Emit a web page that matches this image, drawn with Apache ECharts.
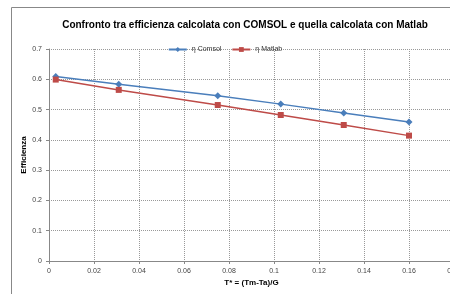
<!DOCTYPE html>
<html>
<head>
<meta charset="utf-8">
<script src="https://cdn.jsdelivr.net/npm/echarts@6/dist/echarts.min.js"></script>
<style>
  html, body { margin: 0; padding: 0; background: #fff; }
  #chart { width: 450px; height: 294px; }
</style>
</head>
<body>
<div id="chart"></div>
<script>
// dati
const tStar = [0.003, 0.031, 0.075, 0.103, 0.131, 0.160];
const etaComsol = [0.609, 0.584, 0.546, 0.518, 0.489, 0.459];
const etaMatlab = [0.599, 0.565, 0.515, 0.482, 0.449, 0.414];

const FONT = '"Liberation Sans", Arial, sans-serif';

function pairs(xs, ys) {
    return xs.map((x, i) => [x, ys[i]]);
}

const chart = echarts.init(document.getElementById('chart'));

const option = {
    animation: false,
    textStyle: { fontFamily: FONT },
    title: {
        text: 'Confronto tra efficienza calcolata con COMSOL e quella calcolata con Matlab',
        left: 240,
        textAlign: 'center',
        top: 15,
        textStyle: { fontSize: 10, fontWeight: 'bold', color: '#000', fontFamily: FONT }
    },
    legend: {
        top: 41,
        left: 'center',
        itemWidth: 18,
        itemHeight: 6,
        itemGap: 10,
        textStyle: { fontSize: 7, color: '#333' },
        data: ['η Comsol', 'η Matlab']
    },
    graphic: [{
        type: 'rect',
        shape: { x: 11.5, y: 7.5, width: 460, height: 320 },
        style: { fill: 'none', stroke: '#888', lineWidth: 1 },
        silent: true
    }],
    grid: { left: 49, top: 49, right: -4, bottom: 33, outerBoundsMode: 'none', containLabel: false },
    xAxis: {
        type: 'value',
        min: 0,
        max: 0.18,
        interval: 0.02,
        name: 'T* = (Tm-Ta)/G',
        nameLocation: 'middle',
        nameGap: 18,
        nameMoveOverlap: false,
        nameTextStyle: { fontSize: 8, fontWeight: 'bold', color: '#000' },
        axisLine: { show: true, lineStyle: { color: '#888' } },
        axisTick: { show: true, length: 3, lineStyle: { color: '#888' } },
        axisLabel: { fontSize: 7, color: '#444', margin: 7, formatter: v => String(+v.toFixed(2)) },
        splitLine: { show: true, lineStyle: { color: '#999', type: 'dotted' } }
    },
    yAxis: {
        type: 'value',
        min: 0,
        max: 0.7,
        interval: 0.1,
        name: 'Efficienza',
        nameLocation: 'middle',
        nameGap: 21,
        nameMoveOverlap: false,
        nameTextStyle: { fontSize: 8, fontWeight: 'bold', color: '#000' },
        axisLine: { show: true, lineStyle: { color: '#888' } },
        axisTick: { show: true, length: 3, lineStyle: { color: '#888' } },
        axisLabel: { fontSize: 7, color: '#444', margin: 7, formatter: v => String(+v.toFixed(1)) },
        splitLine: { show: true, lineStyle: { color: '#999', type: 'dotted' } }
    },
    series: [
        {
            name: 'η Comsol',
            type: 'line',
            data: pairs(tStar, etaComsol),
            symbol: 'diamond',
            symbolSize: 7,
            lineStyle: { color: '#4a7ebb', width: 1.5 },
            itemStyle: { color: '#4a7ebb' }
        },
        {
            name: 'η Matlab',
            type: 'line',
            data: pairs(tStar, etaMatlab),
            symbol: 'rect',
            symbolSize: 6,
            lineStyle: { color: '#be4b48', width: 1.5 },
            itemStyle: { color: '#be4b48' }
        }
    ]
};

chart.setOption(option);
</script>
</body>
</html>
